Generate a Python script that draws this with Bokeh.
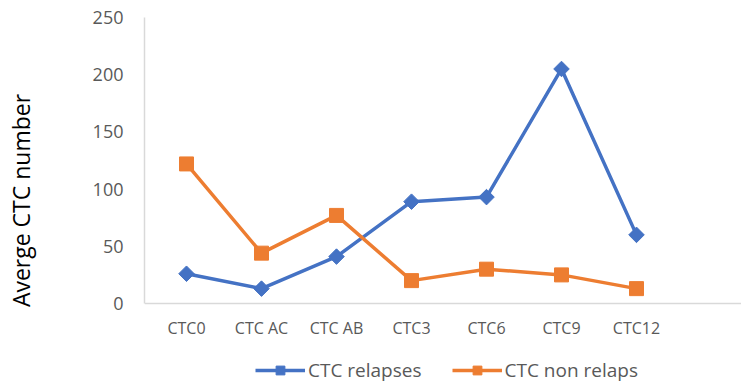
import math
from bokeh.plotting import figure
from bokeh.models import Range1d, FixedTicker, Legend, LegendItem, Span
from bokeh.core.properties import value
from bokeh.embed import file_html
from bokeh.resources import INLINE

# Time points of the CTC sampling
categories = ["CTC0", "CTC AC", "CTC AB", "CTC3", "CTC6", "CTC9", "CTC12"]
# Average CTC counts per group
ctc_relapses = [26, 13, 41, 89, 93, 205, 60]
ctc_non_relaps = [122, 44, 77, 20, 30, 25, 13]
y_ticks = [0, 50, 100, 150, 200, 250]

BLUE = "#4472C4"
ORANGE = "#ED7D31"
TEXT = "#595959"
AXIS = "#D9D9D9"
FONT = "Open Sans"

# layout: the value axis spans 286 px; the frame continues 80 px below zero
# so that category labels and the legend share the plotting area
AXIS_PX = 286
BELOW_PX = 80
Y_MAX = 250
y_start = -BELOW_PX * Y_MAX / AXIS_PX

xs = list(range(len(categories)))

p = figure(
    frame_width=597, frame_height=AXIS_PX + BELOW_PX,
    x_range=Range1d(-0.56, 7.40), y_range=Range1d(y_start, Y_MAX),
    x_axis_location=None,
    output_backend="svg", toolbar_location=None,
    min_border_left=144, min_border_right=0,
    min_border_top=17, min_border_bottom=0,
)
p.outline_line_color = None
p.xgrid.visible = False
p.ygrid.visible = False
p.background_fill_color = "white"
p.border_fill_color = "white"

# y axis limited to the value range
p.yaxis.ticker = FixedTicker(ticks=y_ticks)
p.yaxis.bounds = (0, Y_MAX)
p.yaxis.major_tick_line_color = None
p.yaxis.minor_tick_line_color = None
p.yaxis.axis_line_color = AXIS
p.yaxis.axis_line_width = 1.5
p.yaxis.major_label_text_font = FONT
p.yaxis.major_label_text_font_size = "18px"
p.yaxis.major_label_text_color = TEXT
p.yaxis.major_label_standoff = 15
p.yaxis.axis_label = "Averge CTC number"
p.yaxis.axis_label_text_font = FONT
p.yaxis.axis_label_text_font_size = "23px"
p.yaxis.axis_label_text_font_style = "normal"
p.yaxis.axis_label_text_color = "#000000"
p.yaxis.axis_label_standoff = 53

# category axis: baseline at zero and labels beneath it
p.add_layout(Span(location=0, dimension="width", line_color=AXIS, line_width=1.5))
p.text(x=xs, y=[0] * len(xs), text=categories, y_offset=24,
       text_align="center", text_baseline="middle",
       text_font=value(FONT), text_font_size="16px", text_color=TEXT)

l1 = p.line(xs, ctc_relapses, line_color=BLUE, line_width=3.5)
m1 = p.scatter(xs, ctc_relapses, marker="square", angle=math.pi / 4, size=11,
               fill_color=BLUE, line_color=BLUE)
l2 = p.line(xs, ctc_non_relaps, line_color=ORANGE, line_width=3.5)
m2 = p.scatter(xs, ctc_non_relaps, marker="square", size=14,
               fill_color=ORANGE, line_color=ORANGE)

legend = Legend(
    items=[
        LegendItem(label="CTC relapses", renderers=[l1, m1]),
        LegendItem(label="CTC non relaps", renderers=[l2, m2]),
    ],
    orientation="horizontal", location=(111, 0),
    border_line_color=None, background_fill_alpha=0,
    label_text_font=FONT, label_text_font_size="19px", label_text_color=TEXT,
    glyph_width=50, glyph_height=22, label_height=22,
    label_standoff=3, spacing=30, padding=0, margin=0,
)
p.add_layout(legend, "center")

open("out.html", "w").write(file_html(p, INLINE))
